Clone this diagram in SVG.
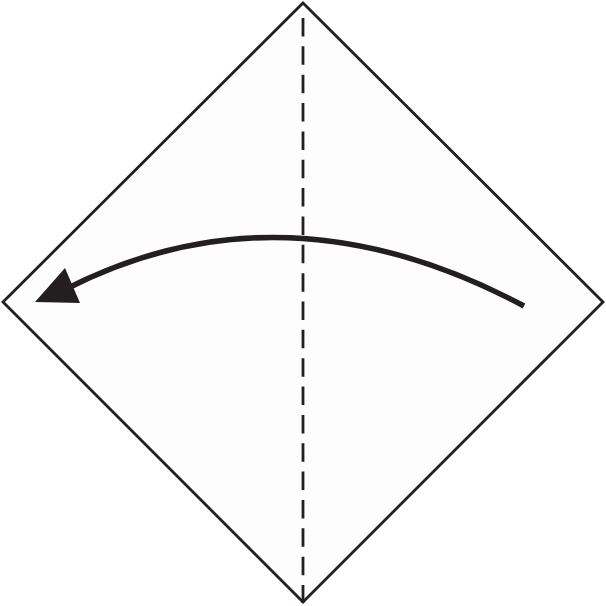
<svg xmlns="http://www.w3.org/2000/svg" width="606" height="606" viewBox="0 0 606 606">
<style>
.paper{fill:#fdfdfd;stroke:#231f20;stroke-width:2.8;stroke-linejoin:miter}
.fold{stroke:#231f20;stroke-width:2.8;stroke-dasharray:18.5 9.85;fill:none}
.arrow{fill:none;stroke:#231f20;stroke-width:5.5}
.head{fill:#231f20}
</style>
<rect width="606" height="606" fill="#ffffff"/>
<g id="paper">
<polygon class="paper" points="303,3 603,302 303,602 3,302"/>
</g>
<g id="fold-line">
<line class="fold" x1="303" y1="18" x2="303" y2="603"/>
</g>
<g id="connectors">
<path class="arrow" d="M524,306 Q284,178 66,289"/>
<polygon class="head" points="35,302 65,268 80,303"/>
</g>
</svg>
